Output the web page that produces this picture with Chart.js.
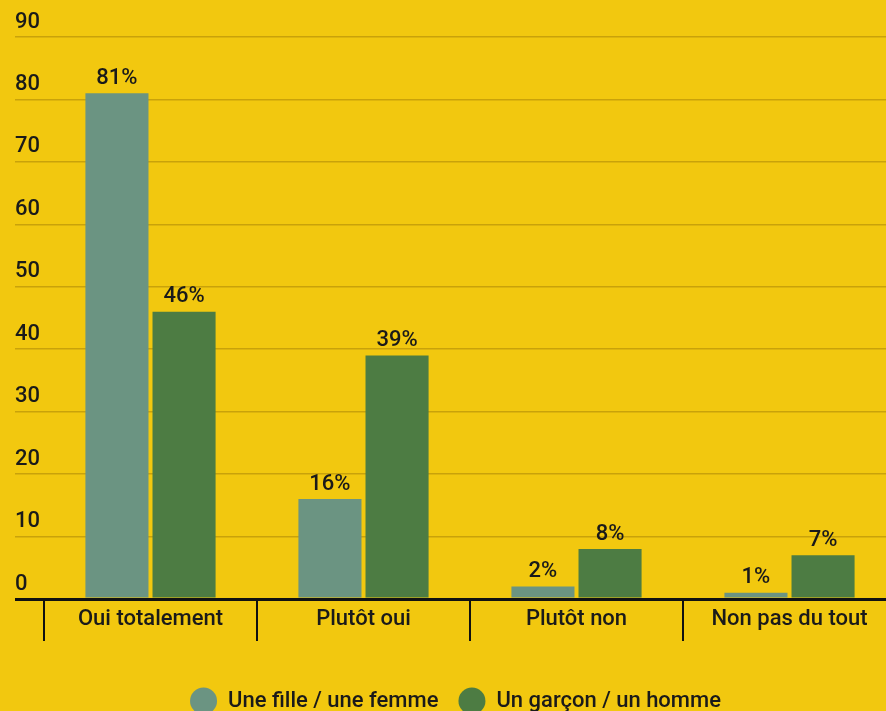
<!DOCTYPE html>
<html>
<head>
<meta charset="utf-8">
<script src="https://cdn.jsdelivr.net/npm/chart.js@4"></script>
<style>
  html, body { margin: 0; padding: 0; background: #F2C80F; overflow: hidden; }
  #wrap { width: 900px; height: 722px; position: relative; }
</style>
</head>
<body>
<div id="wrap"><canvas id="chart"></canvas></div>
<script>
const categories = ['Oui totalement', 'Plutôt oui', 'Plutôt non', 'Non pas du tout'];
const seriesNames = ['Une fille / une femme', 'Un garçon / un homme'];
const girls = [81, 16, 2, 1];
const boys = [46, 39, 8, 7];
const yTicks = [0, 10, 20, 30, 40, 50, 60, 70, 80, 90];

const FONT = 'Roboto, "Noto Sans", sans-serif';

// value labels above each bar ("81%")
const valueLabels = {
  id: 'valueLabels',
  afterDatasetsDraw(chart) {
    const ctx = chart.ctx;
    ctx.save();
    ctx.font = '500 22px ' + FONT;
    ctx.fillStyle = '#1a1a1a';
    ctx.textAlign = 'center';
    ctx.textBaseline = 'bottom';
    chart.data.datasets.forEach((ds, i) => {
      chart.getDatasetMeta(i).data.forEach((bar, j) => {
        ctx.fillText(ds.data[j] + '%', bar.x, bar.y - 4);
      });
    });
    ctx.restore();
  }
};

new Chart(document.getElementById('chart'), {
  type: 'bar',
  data: {
    labels: categories,
    datasets: [
      { label: seriesNames[0], data: girls, backgroundColor: '#6B9482' },
      { label: seriesNames[1], data: boys, backgroundColor: '#4D7C43' }
    ]
  },
  plugins: [valueLabels],
  options: {
    responsive: true,
    maintainAspectRatio: false,
    animation: false,
    categoryPercentage: 0.63,
    barPercentage: 0.94,
    layout: { padding: { left: 15, right: 4, top: 37, bottom: 0 } },
    plugins: {
      tooltip: { enabled: false },
      legend: {
        position: 'bottom',
        labels: {
          usePointStyle: true,
          pointStyle: 'circle',
          boxHeight: 19,
          pointStyleWidth: 27,
          padding: 20,
          color: '#1a1a1a',
          font: { family: FONT, size: 22, weight: '500' }
        }
      }
    },
    scales: {
      x: {
        grid: {
          offset: true,
          drawOnChartArea: false,
          color: '#111',
          lineWidth: 2,
          tickLength: 42
        },
        border: { display: false },
        ticks: {
          padding: -35,
          color: '#1a1a1a',
          font: { family: FONT, size: 22, weight: '500' }
        },
        afterFit: s => { s.height = 71; }
      },
      y: {
        min: 0,
        max: 90,
        afterBuildTicks: s => { s.ticks = yTicks.map(v => ({ value: v })); },
        afterFit: s => { s.width = 29; },
        border: { display: false },
        grid: {
          tickLength: 29,
          color: c => c.tick && c.tick.value === 0 ? '#111' : '#C9A20A',
          lineWidth: c => c.tick && c.tick.value === 0 ? 3 : 1.5
        },
        ticks: {
          crossAlign: 'far',
          labelOffset: -15,
          color: '#1a1a1a',
          font: { family: FONT, size: 22, weight: '500' }
        }
      }
    }
  }
});
</script>
</body>
</html>
